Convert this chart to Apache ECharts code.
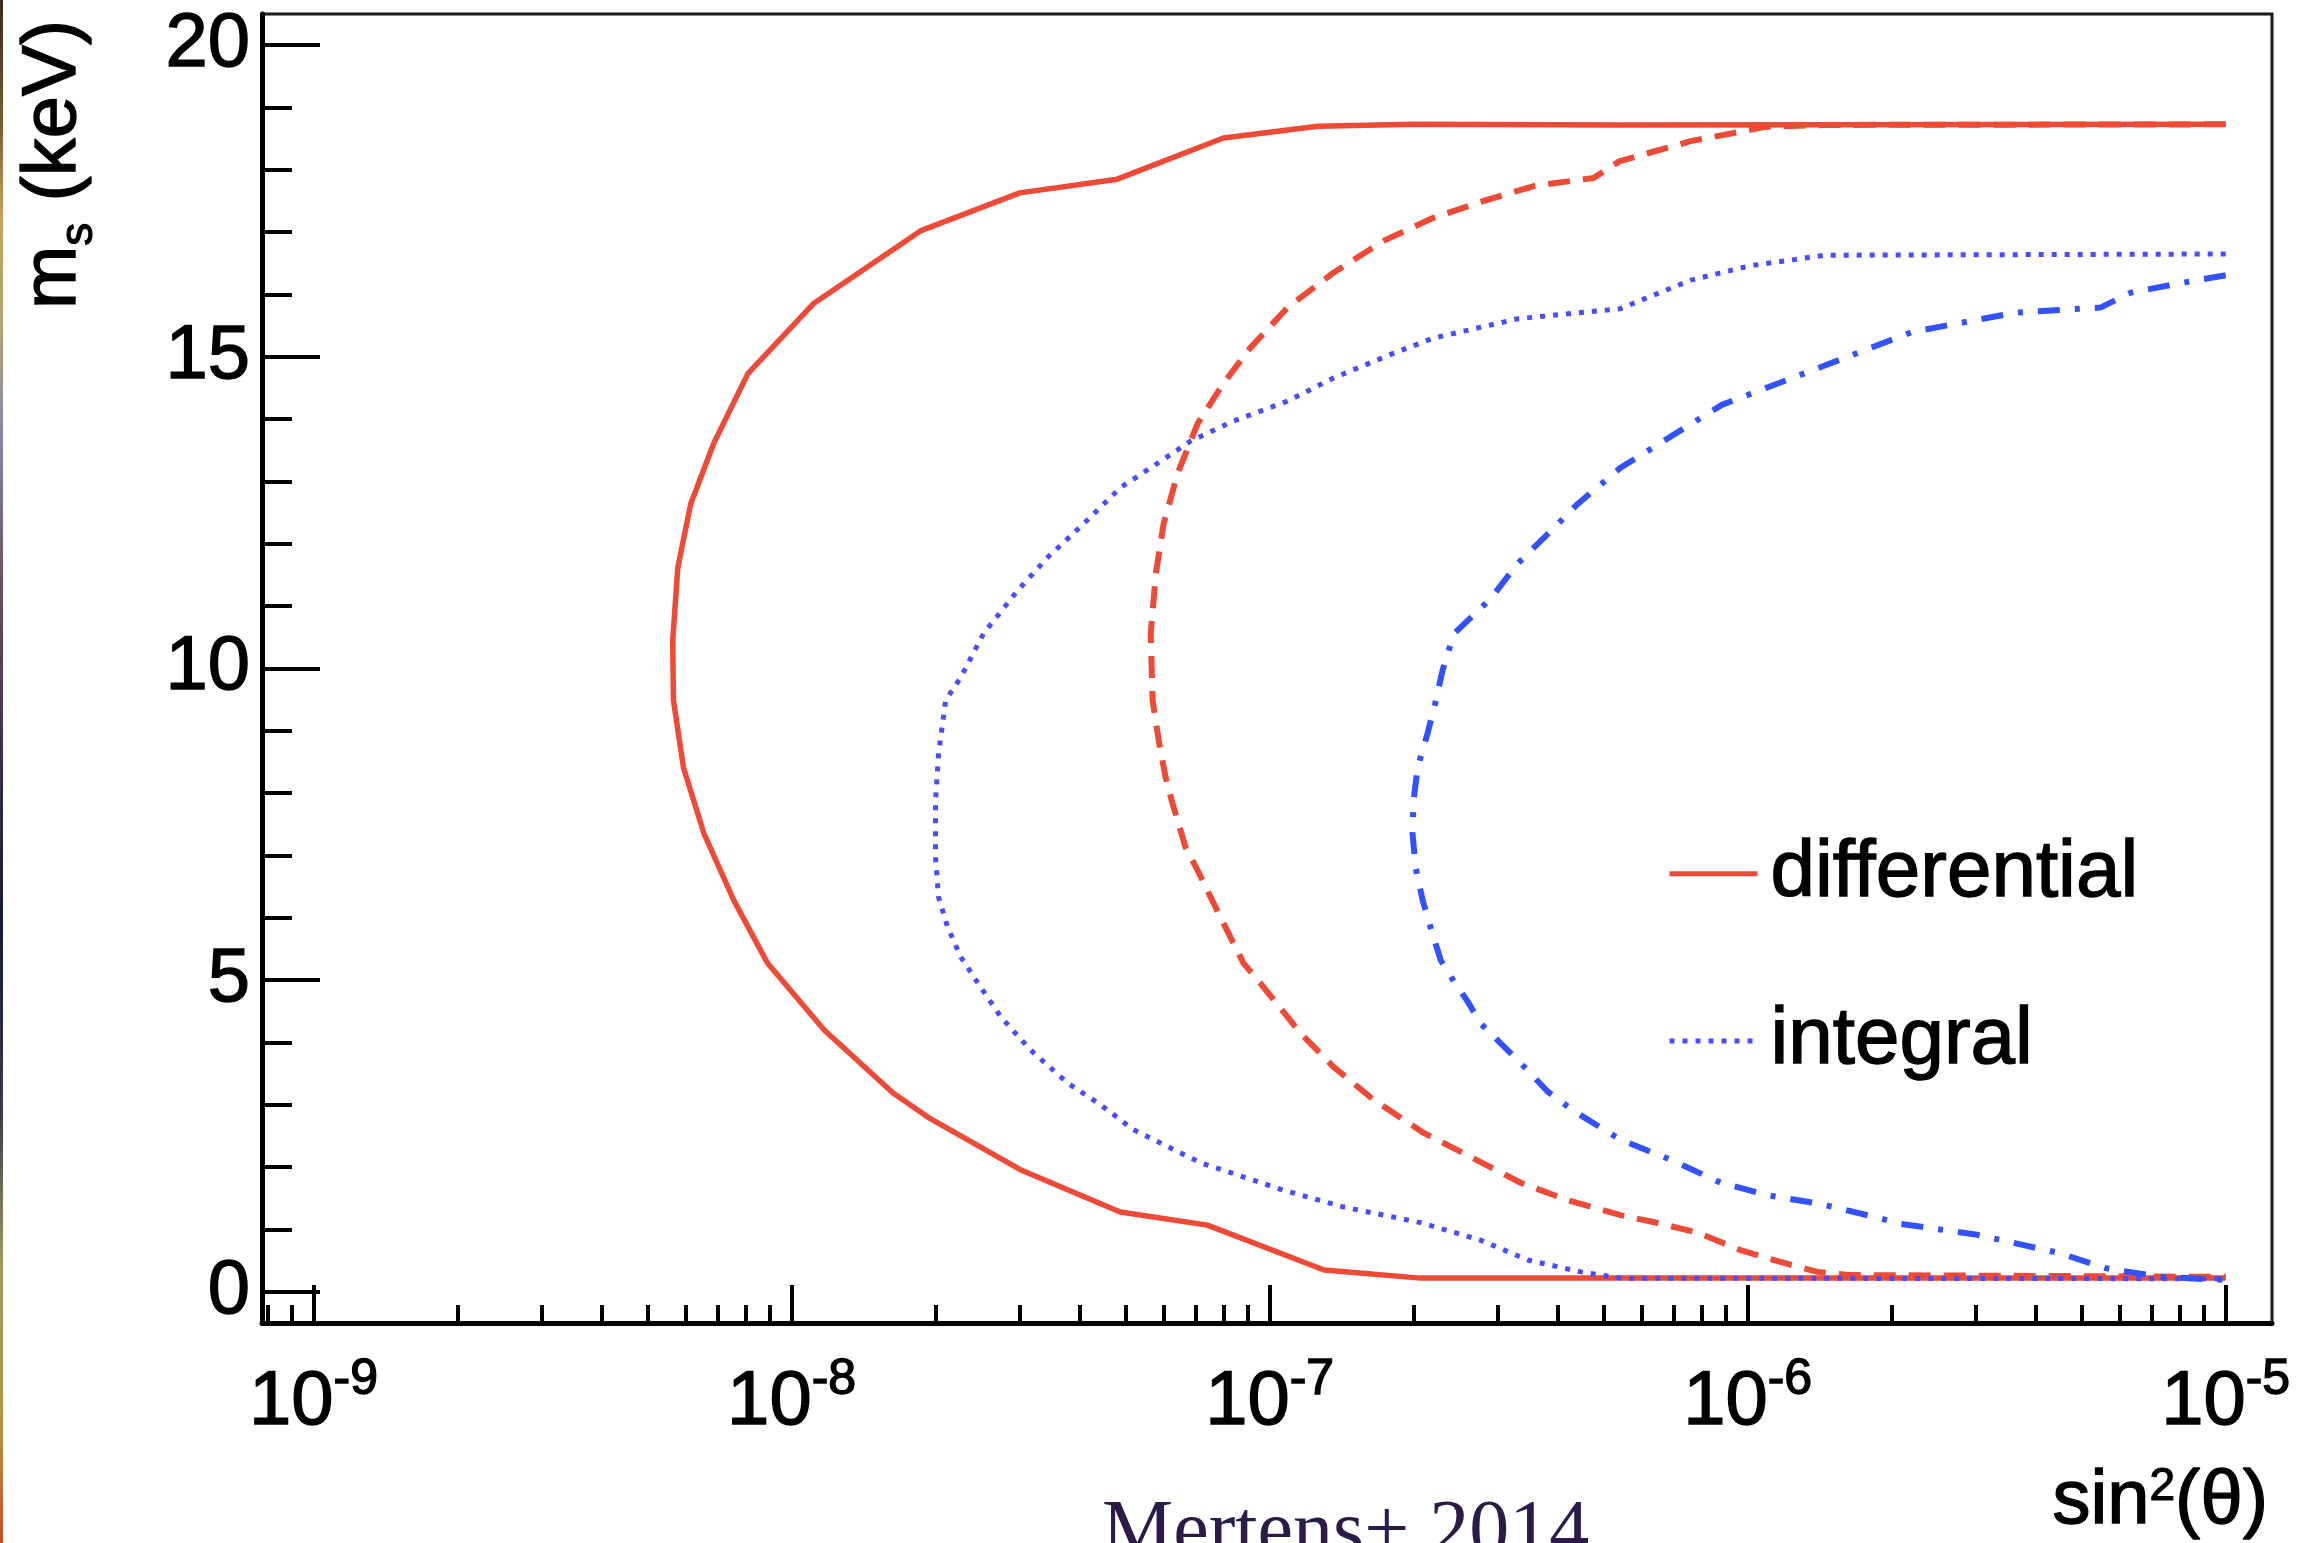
<!DOCTYPE html>
<html>
<head>
<meta charset="utf-8">
<script src="https://cdn.jsdelivr.net/npm/echarts@6/dist/echarts.min.js"></script>
<style>
  html, body { margin: 0; padding: 0; background: #ffffff; }
  #chart { width: 2306px; height: 1543px; }
</style>
</head>
<body>
<div id="chart"></div>
<script>
// Sensitivity contours in the (sin^2(theta), m_s) plane, as [sin2theta, m_s in keV]

// differential spectrum (solid)
const differential = [
  [1.0e-5, 18.73], [5.4e-7, 18.72], [2.0e-7, 18.73], [1.26e-7, 18.70], [8.0e-8, 18.51],
  [4.8e-8, 17.85], [3.0e-8, 17.63], [1.86e-8, 17.02], [1.11e-8, 15.85], [8.1e-9, 14.73],
  [6.87e-9, 13.61], [6.15e-9, 12.64], [5.78e-9, 11.62], [5.64e-9, 10.45], [5.66e-9, 9.49],
  [5.94e-9, 8.41], [6.55e-9, 7.36], [7.57e-9, 6.28], [8.91e-9, 5.27], [1.17e-8, 4.20],
  [1.63e-8, 3.19], [1.93e-8, 2.80], [3.01e-8, 1.96], [4.87e-8, 1.28], [7.41e-8, 1.07],
  [1.30e-7, 0.35], [2.07e-7, 0.22], [1.0e-5, 0.22]
];

// differential spectrum, second contour (dashed)
const differentialB = [
  [1.0e-5, 18.73], [1.45e-6, 18.72], [1.09e-6, 18.69], [7.6e-7, 18.46], [5.4e-7, 18.14],
  [4.76e-7, 17.87], [3.57e-7, 17.74], [2.8e-7, 17.50], [2.2e-7, 17.23], [1.73e-7, 16.86],
  [1.36e-7, 16.35], [1.09e-7, 15.79], [9.1e-8, 15.14], [8.0e-8, 14.57], [7.07e-8, 13.93],
  [6.42e-8, 13.13], [6.0e-8, 12.32], [5.78e-8, 11.52], [5.64e-8, 10.56], [5.69e-8, 9.49],
  [5.86e-8, 8.85], [6.06e-8, 8.25], [6.26e-8, 7.84], [6.67e-8, 7.13], [7.07e-8, 6.76],
  [7.89e-8, 6.01], [8.82e-8, 5.27], [9.57e-8, 4.95], [1.16e-7, 4.15], [1.36e-7, 3.61],
  [1.65e-7, 3.08], [2.1e-7, 2.55], [2.64e-7, 2.16], [3.35e-7, 1.75], [4.2e-7, 1.47],
  [5.42e-7, 1.23], [6.35e-7, 1.12], [7.85e-7, 0.95], [9.66e-7, 0.67], [1.17e-6, 0.48],
  [1.40e-6, 0.32], [1.62e-6, 0.27], [1.0e-5, 0.24]
];

// integral spectrum (dotted)
const integral = [
  [1.0e-5, 16.65], [1.45e-6, 16.63], [1.01e-6, 16.46], [7.6e-7, 16.23], [5.4e-7, 15.77],
  [3.3e-7, 15.61], [2.2e-7, 15.30], [1.82e-7, 15.06], [1.36e-7, 14.66], [1.09e-7, 14.29],
  [8.4e-8, 13.97], [6.84e-8, 13.65], [5.64e-8, 13.22], [4.87e-8, 12.90], [4.08e-8, 12.32],
  [3.43e-8, 11.78], [2.97e-8, 11.25], [2.52e-8, 10.56], [2.26e-8, 9.86], [2.10e-8, 9.49],
  [2.03e-8, 8.64], [2.0e-8, 7.88], [2.0e-8, 6.97], [2.03e-8, 6.33], [2.12e-8, 5.85],
  [2.26e-8, 5.37], [2.43e-8, 5.00], [2.74e-8, 4.41], [3.16e-8, 3.88], [3.78e-8, 3.35],
  [4.43e-8, 3.00], [5.19e-8, 2.60], [7.18e-8, 2.07], [1.07e-7, 1.63], [1.43e-7, 1.36],
  [2.07e-7, 1.11], [2.76e-7, 0.83], [3.47e-7, 0.51], [4.48e-7, 0.32], [5.42e-7, 0.22],
  [1.0e-5, 0.21]
];

// integral spectrum, second contour (dash-dot)
const integralB = [
  [1.0e-5, 16.31], [8.17e-6, 16.19], [6.33e-6, 16.03], [5.47e-6, 15.79], [3.64e-6, 15.71],
  [2.21e-6, 15.40], [1.45e-6, 14.86], [8.83e-7, 14.23], [5.42e-7, 13.22], [4.41e-7, 12.64],
  [3.82e-7, 12.16], [3.30e-7, 11.68], [2.90e-7, 11.12], [2.43e-7, 10.56], [2.30e-7, 9.97],
  [2.22e-7, 9.44], [2.14e-7, 8.96], [2.04e-7, 8.41], [2.00e-7, 7.88], [1.99e-7, 7.36],
  [2.02e-7, 6.81], [2.09e-7, 6.28], [2.19e-7, 5.75], [2.28e-7, 5.32], [2.42e-7, 5.00],
  [2.60e-7, 4.65], [2.76e-7, 4.31], [3.04e-7, 3.99], [3.35e-7, 3.67], [3.82e-7, 3.21],
  [4.33e-7, 2.90], [5.42e-7, 2.44], [6.90e-7, 2.12], [8.79e-7, 1.75], [1.10e-6, 1.55],
  [1.42e-6, 1.41], [1.87e-6, 1.19], [2.09e-6, 1.09], [3.0e-6, 0.92], [4.5e-6, 0.62],
  [5.6e-6, 0.38], [7.3e-6, 0.24], [1.0e-5, 0.19]
];

// axis ticks
const xMajorTicks = [1e-9, 1e-8, 1e-7, 1e-6, 1e-5];
const yMajorTicks = [0, 5, 10, 15, 20];
const yMinorTicks = [1, 2, 3, 4, 6, 7, 8, 9, 11, 12, 13, 14, 16, 17, 18, 19];
const xMinorTicks = [];
for (let e = -10; e <= -5; e++) {
  for (let k = 2; k <= 9; k++) xMinorTicks.push(+(k * Math.pow(10, e)).toPrecision(3));
}

const X_MIN = 7.8e-10, X_MAX = 1.25e-5;
const Y_MIN = -0.5, Y_MAX = 20.5;

const FONT = '"Liberation Sans", Arial, Helvetica, sans-serif';
const RED = '#ee4a36';
const BLUE_DOT = '#4a4cff';
const BLUE_DD = '#3352ff';
// a thin outline gives the glyphs the weight of the printed labels
const INK = { textBorderColor: '#000', textBorderWidth: 1.4 };

const chart = echarts.init(document.getElementById('chart'), null, { renderer: 'canvas' });

const tickStyle = { color: '#000', width: 4 };

const option = {
  animation: false,
  backgroundColor: '#ffffff',
  grid: {
    left: 262, right: 34, top: 14, bottom: 220,
    show: true, borderColor: '#1a1a1a', borderWidth: 3,
    backgroundColor: 'transparent',
    containLabel: false, outerBoundsMode: 'none'
  },
  xAxis: [
    {
      type: 'log', logBase: 10, min: X_MIN, max: X_MAX, position: 'bottom', offset: 0,
      axisLine: { show: true, onZero: false, lineStyle: { color: '#000', width: 5 } },
      axisTick: { show: true, inside: true, length: 38, lineStyle: tickStyle, customValues: xMajorTicks },
      minorTick: { show: false },
      splitLine: { show: false },
      axisLabel: {
        show: true, customValues: xMajorTicks, margin: 32, color: '#000',
        formatter: function (v) { return '{b|10}{s|' + Math.round(Math.log10(v)) + '}'; },
        rich: {
          b: Object.assign({ fontSize: 76, lineHeight: 96, fontFamily: FONT, color: '#000' }, INK),
          s: Object.assign({ fontSize: 50, lineHeight: 40, verticalAlign: 'top', fontFamily: FONT, color: '#000' }, INK)
        }
      }
    },
    {
      type: 'log', logBase: 10, min: X_MIN, max: X_MAX, position: 'bottom', offset: 0,
      axisLine: { show: false, onZero: false },
      axisTick: { show: true, inside: true, length: 18, lineStyle: tickStyle, customValues: xMinorTicks },
      axisLabel: { show: false },
      minorTick: { show: false },
      splitLine: { show: false }
    }
  ],
  yAxis: [
    {
      type: 'value', min: Y_MIN, max: Y_MAX, position: 'left', offset: 0,
      axisLine: { show: true, onZero: false, lineStyle: { color: '#000', width: 5 } },
      axisTick: { show: true, inside: true, length: 58, lineStyle: tickStyle, customValues: yMajorTicks },
      minorTick: { show: false },
      splitLine: { show: false },
      axisLabel: Object.assign({
        show: true, customValues: yMajorTicks, margin: 12,
        fontSize: 76, fontFamily: FONT, color: '#000'
      }, INK)
    },
    {
      type: 'value', min: Y_MIN, max: Y_MAX, position: 'left', offset: 0,
      axisLine: { show: false, onZero: false },
      axisTick: { show: true, inside: true, length: 30, lineStyle: tickStyle, customValues: yMinorTicks },
      axisLabel: { show: false },
      minorTick: { show: false },
      splitLine: { show: false }
    }
  ],
  legend: {
    data: ['differential', 'integral'],
    orient: 'vertical',
    left: 1662, top: 828,
    itemWidth: 88, itemHeight: 14, itemGap: 86,
    selectedMode: false,
    itemStyle: { opacity: 0, borderWidth: 0 },
    lineStyle: { width: 5 },
    textStyle: Object.assign({ fontSize: 80, lineHeight: 80, fontFamily: FONT, color: '#000', padding: [0, 0, 0, 8] }, INK)
  },
  series: [
    {
      name: 'differential', type: 'line', data: differential,
      xAxisIndex: 0, yAxisIndex: 0, symbol: 'none', smooth: false, silent: true,
      itemStyle: { color: RED },
      lineStyle: { color: RED, width: 5.5, type: 'solid' }
    },
    {
      name: 'differential (2)', type: 'line', data: differentialB,
      xAxisIndex: 0, yAxisIndex: 0, symbol: 'none', smooth: false, silent: true,
      itemStyle: { color: RED },
      lineStyle: { color: RED, width: 6, type: [22, 13] }
    },
    {
      name: 'integral', type: 'line', data: integral,
      xAxisIndex: 0, yAxisIndex: 0, symbol: 'none', smooth: false, silent: true,
      itemStyle: { color: BLUE_DOT },
      lineStyle: { color: BLUE_DOT, width: 5, type: [5, 8] }
    },
    {
      name: 'integral (2)', type: 'line', data: integralB,
      xAxisIndex: 0, yAxisIndex: 0, symbol: 'none', smooth: false, silent: true,
      itemStyle: { color: BLUE_DD },
      lineStyle: { color: BLUE_DD, width: 6, type: [22, 15, 5, 15] }
    }
  ],
  graphic: [
    {
      // slide border showing at the left edge
      type: 'rect', left: 0, top: 0, silent: true,
      shape: { x: 0, y: 0, width: 3, height: 1543 },
      style: {
        fill: {
          type: 'linear', x: 0, y: 0, x2: 0, y2: 1,
          colorStops: [
            { offset: 0, color: '#3a2a1a' }, { offset: 0.08, color: '#7a5a30' },
            { offset: 0.14, color: '#c9a35a' }, { offset: 0.22, color: '#b0a078' },
            { offset: 0.28, color: '#8888a8' }, { offset: 0.38, color: '#6a5060' },
            { offset: 0.5, color: '#3a2a48' }, { offset: 0.6, color: '#141a40' },
            { offset: 0.72, color: '#3a3a48' }, { offset: 0.82, color: '#a09a60' },
            { offset: 0.93, color: '#b89040' }, { offset: 1, color: '#c84a2a' }
          ]
        }
      }
    },
    {
      // y axis title
      type: 'text', x: 54, y: 20, rotation: Math.PI / 2, silent: true,
      style: {
        text: '{a|m}{s|s}{a| (keV)}',
        align: 'right', verticalAlign: 'middle',
        rich: {
          a: { fontSize: 76, lineHeight: 96, fontFamily: FONT, fill: '#000', stroke: '#000', lineWidth: 1.4 },
          s: { fontSize: 46, lineHeight: 40, verticalAlign: 'bottom', fontFamily: FONT, fill: '#000', stroke: '#000', lineWidth: 1.2 }
        }
      }
    },
    {
      // x axis title
      type: 'text', x: 2268, y: 1502, silent: true,
      style: {
        text: '{a|sin}{s|2}{a|(θ)}',
        align: 'right', verticalAlign: 'middle',
        rich: {
          a: { fontSize: 76, lineHeight: 76, fontFamily: FONT, fill: '#000', stroke: '#000', lineWidth: 1.4 },
          s: { fontSize: 46, lineHeight: 44, verticalAlign: 'top', fontFamily: FONT, fill: '#000', stroke: '#000', lineWidth: 1.2 }
        }
      }
    },
    {
      type: 'text', x: 1102, y: 1534, silent: true,
      style: {
        text: 'Mertens+ 2014',
        font: '80px "Liberation Serif", "Times New Roman", serif',
        fill: '#2c1a48', align: 'left', verticalAlign: 'middle'
      }
    }
  ]
};

chart.setOption(option);
</script>
</body>
</html>
